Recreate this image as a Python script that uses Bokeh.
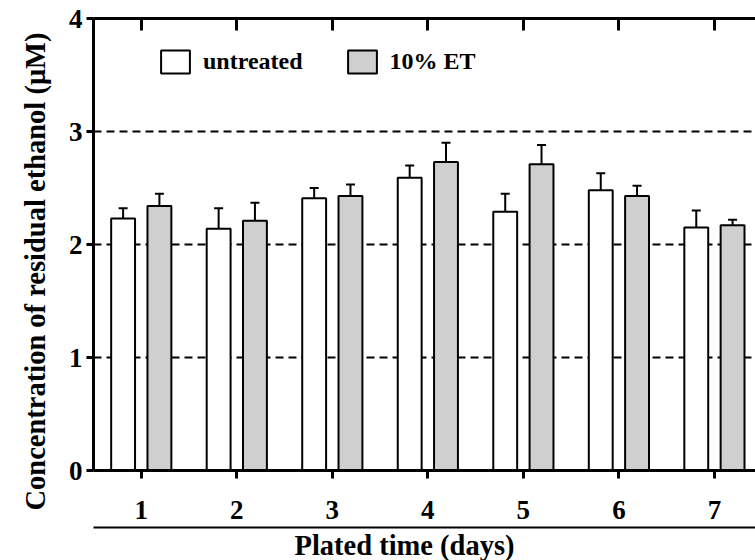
from bokeh.plotting import figure
from bokeh.models import (ColumnDataSource, FixedTicker, LinearAxis, Whisker, TeeHead,
                          Legend, LegendItem, Title, CustomLabelingPolicy)
from bokeh.transform import dodge
from bokeh.embed import file_html
from bokeh.resources import INLINE

# ---- data ----
days = [1, 2, 3, 4, 5, 6, 7]
day_labels = ["1", "2", "3", "4", "5", "6", "7"]
untreated = [2.23, 2.14, 2.41, 2.59, 2.29, 2.48, 2.15]
untreated_err = [0.09, 0.18, 0.09, 0.11, 0.16, 0.15, 0.15]
treated = [2.34, 2.21, 2.43, 2.73, 2.71, 2.43, 2.17]
treated_err = [0.11, 0.16, 0.10, 0.17, 0.17, 0.09, 0.05]
y_ticks = [0, 1, 2, 3, 4]
grid_ticks = [1, 2, 3]

src = ColumnDataSource(dict(
    day=days,
    u=untreated,
    u_top=[v + e for v, e in zip(untreated, untreated_err)],
    t=treated,
    t_top=[v + e for v, e in zip(treated, treated_err)],
))

FONT = "Liberation Serif"
OFF = 0.19
BW = 0.25

p = figure(width=755, height=560, x_range=(0.5, 7.43), y_range=(0, 4),
           output_backend="svg", toolbar_location=None,
           min_border_left=93, min_border_right=0, min_border_top=18, min_border_bottom=90)
p.outline_line_color = None
p.background_fill_color = "white"
p.border_fill_color = "white"

# grid
p.xgrid.visible = False
p.ygrid.ticker = FixedTicker(ticks=grid_ticks)
p.ygrid.grid_line_color = "black"
p.ygrid.grid_line_width = 2
p.ygrid.grid_line_dash = "8 5"

# bars
r_u = p.vbar(x=dodge("day", -OFF), top="u", bottom=0, width=BW, source=src,
             fill_color="white", line_color="black", line_width=2)
r_t = p.vbar(x=dodge("day", OFF), top="t", bottom=0, width=BW, source=src,
             fill_color="#cfcfcf", line_color="black", line_width=2)

# error bars (upper only)
for key, top, off in (("u", "u_top", -OFF), ("t", "t_top", OFF)):
    w = Whisker(base=dodge("day", off), lower=key, upper=top, source=src,
                line_color="black", line_width=2,
                upper_head=TeeHead(size=9, line_color="black", line_width=2),
                lower_head=None)
    p.add_layout(w)

# left axis
ya = p.yaxis[0]
ya.ticker = FixedTicker(ticks=y_ticks)
ya.axis_line_width = 3
ya.major_tick_line_width = 3
ya.major_tick_in = 0
ya.major_tick_out = 7
ya.minor_tick_line_color = None
ya.major_label_standoff = 4
ya.major_label_text_font = FONT
ya.major_label_text_font_style = "bold"
ya.major_label_text_font_size = "27px"
ya.major_label_text_color = "black"

# bottom axis
xa = p.xaxis[0]
xa.ticker = FixedTicker(ticks=days)
xa.major_label_overrides = {d: l for d, l in zip(days, day_labels)}
xa.axis_line_width = 3
xa.major_tick_line_width = 3
xa.major_tick_in = 0
xa.major_tick_out = 8
xa.minor_tick_line_color = None
xa.major_label_standoff = 22
xa.major_label_text_font = FONT
xa.major_label_text_font_style = "bold"
xa.major_label_text_font_size = "27px"
xa.major_label_text_color = "black"

no_labels = CustomLabelingPolicy(code="""
    for (const i of indices) { indices.unset(i) }
    return indices
""")

# invisible spacer between the tick labels and the rule above the x title
spacer = LinearAxis(ticker=FixedTicker(ticks=days), axis_line_color=None,
                    major_tick_in=0, major_tick_out=2, major_tick_line_color="white",
                    minor_tick_line_color=None, major_label_policy=no_labels,
                    major_label_standoff=0, major_label_text_font_size="1px")
p.add_layout(spacer, "below")

# rule above the x title
xa2 = LinearAxis(ticker=FixedTicker(ticks=[]), axis_line_width=2,
                 major_tick_in=0, major_tick_out=0, minor_tick_line_color=None,
                 major_label_standoff=0, major_label_text_font_size="1px")
p.add_layout(xa2, "below")

# top frame line with inward ticks
ta = LinearAxis(ticker=FixedTicker(ticks=days), axis_line_width=3,
                major_tick_in=12, major_tick_out=0, major_tick_line_width=3,
                minor_tick_line_color=None, major_label_policy=no_labels,
                major_label_standoff=0, major_label_text_font_size="1px")
p.add_layout(ta, "above")

# titles
p.add_layout(Title(text="Plated time (days)", align="left", offset=201,
                   text_font=FONT, text_font_style="bold", text_font_size="28.5px",
                   text_color="black", standoff=0), "below")
p.add_layout(Title(text="Concentration of residual ethanol (\u03bcM)", align="left",
                   offset=-40, vertical_align="bottom", text_font=FONT,
                   text_font_style="bold", text_font_size="28.5px", text_color="black",
                   standoff=29), "left")

# legend
legend = Legend(items=[LegendItem(label="untreated", renderers=[r_u]),
                       LegendItem(label="10% ET", renderers=[r_t])],
                orientation="horizontal", location=(64, 394),
                glyph_width=36, glyph_height=29, label_standoff=10, spacing=41,
                padding=0, margin=0, border_line_color=None, background_fill_alpha=0,
                label_text_font=FONT, label_text_font_style="bold",
                label_text_font_size="24px", label_text_color="black")
p.add_layout(legend, "center")

open("out.html", "w").write(file_html(p, INLINE))
